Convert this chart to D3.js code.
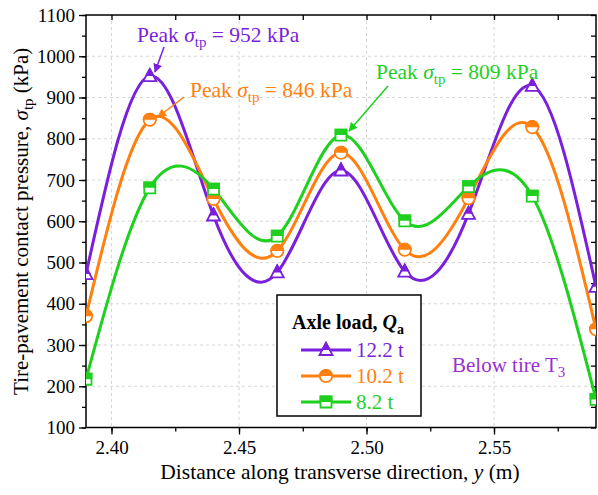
<!DOCTYPE html>
<html>
<head>
<meta charset="utf-8">
<script src="https://cdn.jsdelivr.net/npm/d3@7"></script>
<style>
  html, body { margin: 0; padding: 0; background: #fff; }
  svg { display: block; }
  svg text { font-family: "Liberation Serif", "Times New Roman", serif; }
</style>
</head>
<body>
<svg id="chart" width="598" height="495"></svg>
<script>
// positions along the transverse direction (m)
const positions = [2.39, 2.415, 2.44, 2.465, 2.49, 2.515, 2.54, 2.565, 2.59];

// contact pressure (kPa) per axle load
const load12 = [472, 952, 614, 476, 723, 478, 618, 928, 441];
const load10 = [370, 846, 654, 528, 766, 531, 656, 828, 338];
const load8  = [217, 681, 678, 564, 809, 601, 684, 661, 168];

const seriesNames = ["12.2 t", "10.2 t", "8.2 t"];
const xTicks = [2.40, 2.45, 2.50, 2.55];
const yTicks = [100, 200, 300, 400, 500, 600, 700, 800, 900, 1000, 1100];

const purple = "#7a1fdc", orange = "#ff7f0f", green = "#1fd01f";

const series = [
  { name: seriesNames[0], values: load12, color: purple, shape: "triangle" },
  { name: seriesNames[1], values: load10, color: orange, shape: "circle" },
  { name: seriesNames[2], values: load8,  color: green,  shape: "square" }
];

const svg = d3.select("#chart");
const pl = 86, pr = 596, pt = 15, pb = 427.5;

const x = d3.scaleLinear().domain([2.39, 2.59]).range([pl, pr]);
const y = d3.scaleLinear().domain([100, 1100]).range([pb, pt]);

// clip for the plot area
const defs = svg.append("defs");
defs.append("clipPath").attr("id", "plotClip")
  .append("rect").attr("x", pl).attr("y", pt)
  .attr("width", pr - pl).attr("height", pb - pt);
defs.append("clipPath").attr("id", "topHalf")
  .append("rect").attr("x", -20).attr("y", -20).attr("width", 40).attr("height", 20);

// dashed grid
const grid = svg.append("g");
grid.selectAll(".gx").data(xTicks).enter().append("line")
  .attr("x1", d => x(d)).attr("x2", d => x(d))
  .attr("y1", pt).attr("y2", pb)
  .attr("stroke", "#d6d6d6").attr("stroke-width", 1).attr("stroke-dasharray", "3,3");
grid.selectAll(".gy").data(yTicks.slice(1, -1)).enter().append("line")
  .attr("x1", pl).attr("x2", pr)
  .attr("y1", d => y(d)).attr("y2", d => y(d))
  .attr("stroke", "#d6d6d6").attr("stroke-width", 1).attr("stroke-dasharray", "3,3");

// axes
const xMinor = d3.range(2.40, 2.59, 0.025);
const yMinor = d3.range(100, 1101, 50);

svg.append("g").attr("transform", `translate(0,${pb})`)
  .call(d3.axisBottom(x).tickValues(xMinor).tickSize(4).tickFormat(""))
  .call(g => g.select(".domain").remove());
svg.append("g").attr("transform", `translate(0,${pb})`)
  .call(d3.axisBottom(x).tickValues(xTicks).tickSize(7).tickPadding(6).tickFormat(d3.format(".2f")))
  .call(g => g.select(".domain").remove());
svg.append("g").attr("transform", `translate(0,${pt})`)
  .call(d3.axisBottom(x).tickValues(xMinor).tickSize(5).tickFormat(""))
  .call(g => g.select(".domain").remove());

svg.append("g").attr("transform", `translate(${pl},0)`)
  .call(d3.axisLeft(y).tickValues(yMinor).tickSize(4).tickFormat(""))
  .call(g => g.select(".domain").remove());
svg.append("g").attr("transform", `translate(${pl},0)`)
  .call(d3.axisLeft(y).tickValues(yTicks).tickSize(7).tickPadding(4).tickFormat(d3.format("d")))
  .call(g => g.select(".domain").remove());
svg.append("g").attr("transform", `translate(${pr},0)`)
  .call(d3.axisLeft(y).tickValues(yMinor).tickSize(5).tickFormat(""))
  .call(g => g.select(".domain").remove());

svg.selectAll(".tick line").attr("stroke", "#000").attr("stroke-width", 1.3);
svg.selectAll(".tick text").attr("font-size", 19).attr("fill", "#000");

svg.append("rect").attr("x", pl).attr("y", pt)
  .attr("width", pr - pl).attr("height", pb - pt)
  .attr("fill", "none").attr("stroke", "#000").attr("stroke-width", 1.5);

// marker shapes
function markerPath(shape) {
  if (shape === "triangle") return "M0,-7L6.5,5L-6.5,5Z";
  if (shape === "circle") return d3.symbol(d3.symbolCircle, 120)();
  return "M-5.5,-5.5H5.5V5.5H-5.5Z";
}
function drawMarker(g, shape, color) {
  g.append("path").attr("d", markerPath(shape))
    .attr("fill", "#fff").attr("stroke", color).attr("stroke-width", 1.8);
  g.append("path").attr("d", markerPath(shape))
    .attr("fill", color).attr("stroke", color).attr("stroke-width", 1.8)
    .attr("clip-path", "url(#topHalf)");
}

// curves
const plot = svg.append("g").attr("clip-path", "url(#plotClip)");
const line = d3.line().x((d, i) => x(positions[i])).y(d => y(d)).curve(d3.curveNatural);

series.forEach(s => {
  plot.append("path").datum(s.values)
    .attr("d", line).attr("fill", "none")
    .attr("stroke", s.color).attr("stroke-width", 3);
});
series.forEach(s => {
  s.values.forEach((v, i) => {
    const g = plot.append("g").attr("transform", `translate(${x(positions[i])},${y(v)})`);
    drawMarker(g, s.shape, s.color);
  });
});

// axis titles
svg.append("text").attr("x", (pl + pr) / 2 - 1).attr("y", 479)
  .attr("text-anchor", "middle").attr("font-size", 21.5)
  .html('Distance along transverse direction, <tspan font-style="italic">y</tspan> (m)');

svg.append("text")
  .attr("transform", `translate(28,${(pt + pb) / 2}) rotate(-90)`)
  .attr("text-anchor", "middle").attr("font-size", 21)
  .html('Tire-pavement contact pressure, <tspan font-style="italic">σ</tspan><tspan font-size="15" dy="5">tp</tspan><tspan dy="-5"> (kPa)</tspan>');

// peak annotations
const peaks = [
  { text: "952", color: purple, tx: 137, ty: 42, from: [164, 47], to: [155, 72] },
  { text: "846", color: orange, tx: 190, ty: 97, from: [184, 97], to: [158, 117] },
  { text: "809", color: green, tx: 376, ty: 79, from: [388, 86], to: [349, 131] }
];
peaks.forEach((p, k) => {
  defs.append("marker").attr("id", "arr" + k)
    .attr("viewBox", "0 0 10 10").attr("refX", 9).attr("refY", 5)
    .attr("markerWidth", 9).attr("markerHeight", 9).attr("markerUnits", "userSpaceOnUse")
    .attr("orient", "auto")
    .append("path").attr("d", "M0,0L10,5L0,10Z").attr("fill", p.color);
  svg.append("line")
    .attr("x1", p.from[0]).attr("y1", p.from[1]).attr("x2", p.to[0]).attr("y2", p.to[1])
    .attr("stroke", p.color).attr("stroke-width", 1.5).attr("marker-end", `url(#arr${k})`);
  svg.append("text").attr("x", p.tx).attr("y", p.ty).attr("font-size", 21.5).attr("fill", p.color)
    .html(`Peak <tspan font-style="italic">σ</tspan><tspan font-size="15" dy="5">tp</tspan><tspan dy="-5"> = ${p.text} kPa</tspan>`);
});

svg.append("text").attr("x", 452).attr("y", 372).attr("font-size", 21).attr("fill", "#9b2fd2")
  .html('Below tire T<tspan font-size="15" dy="5">3</tspan>');

// legend
const lg = svg.append("g");
lg.append("rect").attr("x", 277).attr("y", 295).attr("width", 144).attr("height", 121)
  .attr("fill", "#fff").attr("stroke", "#000").attr("stroke-width", 1.5);
lg.append("text").attr("x", 292).attr("y", 329).attr("font-size", 20).attr("font-weight", "bold")
  .html('Axle load, <tspan font-style="italic">Q</tspan><tspan font-size="14" dy="5">a</tspan>');
series.forEach((s, i) => {
  const cy = 350 + i * 26;
  lg.append("line").attr("x1", 301).attr("x2", 351).attr("y1", cy).attr("y2", cy)
    .attr("stroke", s.color).attr("stroke-width", 3);
  drawMarker(lg.append("g").attr("transform", `translate(326,${cy})`), s.shape, s.color);
  lg.append("text").attr("x", 356).attr("y", cy + 7).attr("font-size", 21).attr("fill", s.color).text(s.name);
});
</script>
</body>
</html>
